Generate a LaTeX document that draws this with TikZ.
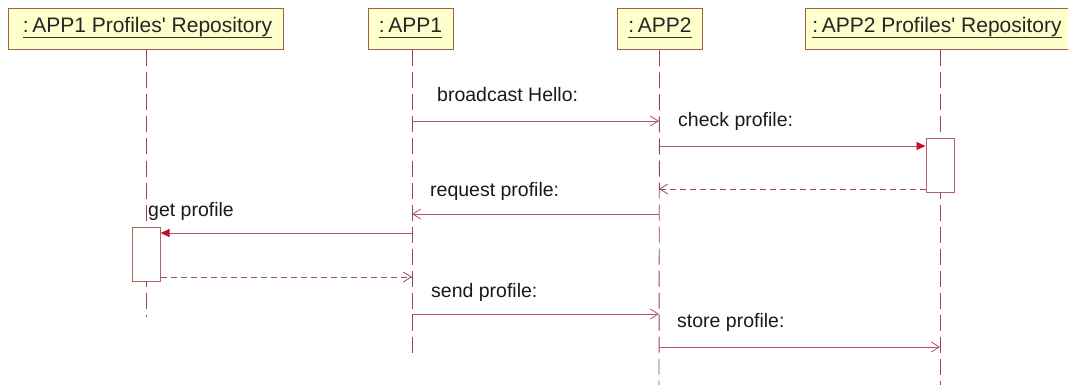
\documentclass[tikz,border=0pt]{standalone}
\usepackage{fontspec}
\setmainfont{Liberation Sans}
\usetikzlibrary{arrows.meta}
\definecolor{lifec}{RGB}{150,70,85}
\definecolor{msgc}{RGB}{175,85,100}
\definecolor{tipc}{RGB}{195,15,45}
\definecolor{hdrfill}{RGB}{255,255,204}
\definecolor{hdrdraw}{RGB}{160,95,75}
\definecolor{actdraw}{RGB}{180,100,95}
\tikzset{
  hdr/.style={draw=hdrdraw, fill=hdrfill, line width=1pt, minimum height=41pt, inner sep=0pt},
  htext/.style={inner sep=0pt, anchor=base, font=\fontsize{21}{24}\selectfont, text=black!85},
  uline/.style={draw=black!80, line width=0.9pt},
  life/.style={draw=lifec, line width=0.9pt, dash pattern=on 16pt off 6pt},
  act/.style={draw=actdraw, fill=white, line width=1pt, minimum width=28pt, inner sep=0pt},
  msg/.style={draw=msgc, line width=0.9pt, -{Straight Barb[length=8pt,width=10pt,line width=0.8pt]}},
  call/.style={draw=msgc, line width=0.9pt, -{Triangle[length=9pt,width=8pt,color=tipc]}},
  ret/.style={draw=msgc!90!black, line width=0.9pt, dash pattern=on 6pt off 4pt, -{Straight Barb[length=8pt,width=10pt,line width=0.8pt]}},
  lbl/.style={inner sep=0pt, anchor=base west, font=\fontsize{19.5}{22}\selectfont, text=black!90}
}
\begin{document}
\begin{tikzpicture}[x=1pt,y=-1pt]
\useasboundingbox (0,0) rectangle (1068,385);
% header boxes
\node[hdr, minimum width=275pt] (r1) at (146,29.5) {};
\node[hdr, minimum width=85pt] (p1) at (411,29.5) {};
\node[hdr, minimum width=85pt] (p2) at (659.5,29.5) {};
\node[hdr, minimum width=270pt] (r2) at (940,29.5) {};
% header texts
\node[htext] (r1t) at (147.5,33) {:\,APP1 Profiles\textquotesingle\ Repository};
\node[htext] (p1t) at (410.5,33) {:\,APP1};
\node[htext] (p2t) at (660,33) {:\,APP2};
\node[htext] (r2t) at (937,33) {:\,APP2 Profiles\textquotesingle\ Repository};
\foreach \n in {r1t,p1t,p2t,r2t}{
  \draw[uline] ([yshift=-4pt]\n.base west) -- ([yshift=-4pt]\n.base east);
}
% lifeline ends
\coordinate (r1e) at (146,317);
\coordinate (p1e) at (412,357);
\coordinate (p2e) at (659,385);
\coordinate (r2e) at (940,385);
\draw[life] (r1.south) -- (r1e);
\draw[life] ([xshift=1pt]p1.south) -- (p1e);
\draw[life] (p2.south) -- (p2e);
\draw[life] (r2.south) -- (r2e);
% activation boxes
\node[act, minimum height=53pt] (a2) at (940,165.5) {};
\node[act, minimum height=54pt] (a1) at (146,254) {};
% message endpoints
\coordinate (m1s) at (412,121); \coordinate (m1e) at (659,121);
\coordinate (m2s) at (659,146);
\coordinate (m3e) at (659,189);
\coordinate (m4s) at (659,214); \coordinate (m4e) at (412,214);
\coordinate (m5s) at (412,233);
\coordinate (m6e) at (412,277);
\coordinate (m7s) at (412,314); \coordinate (m7e) at (659,314);
\coordinate (m8s) at (659,347); \coordinate (m8e) at (940,347);
% messages
\draw[msg] (m1s) -- (m1e);
\draw[call] (m2s) -- (a2.west |- m2s);
\draw[ret] (a2.west |- m3e) -- (m3e);
\draw[msg] (m4s) -- (m4e);
\draw[call] (m5s) -- (a1.east |- m5s);
\draw[ret] (a1.east |- m6e) -- (m6e);
\draw[msg] (m7s) -- (m7e);
\draw[msg] (m8s) -- (m8e);
% labels
\node[lbl] (l1) at (437,102) {broadcast Hello:};
\node[lbl] (l2) at (678,127) {check profile:};
\node[lbl] (l3) at (430,196) {request profile:};
\node[lbl] (l4) at (148,216) {get profile};
\node[lbl] (l5) at (431,297) {send profile:};
\node[lbl] (l6) at (677,327) {store profile:};
\end{tikzpicture}
\end{document}
